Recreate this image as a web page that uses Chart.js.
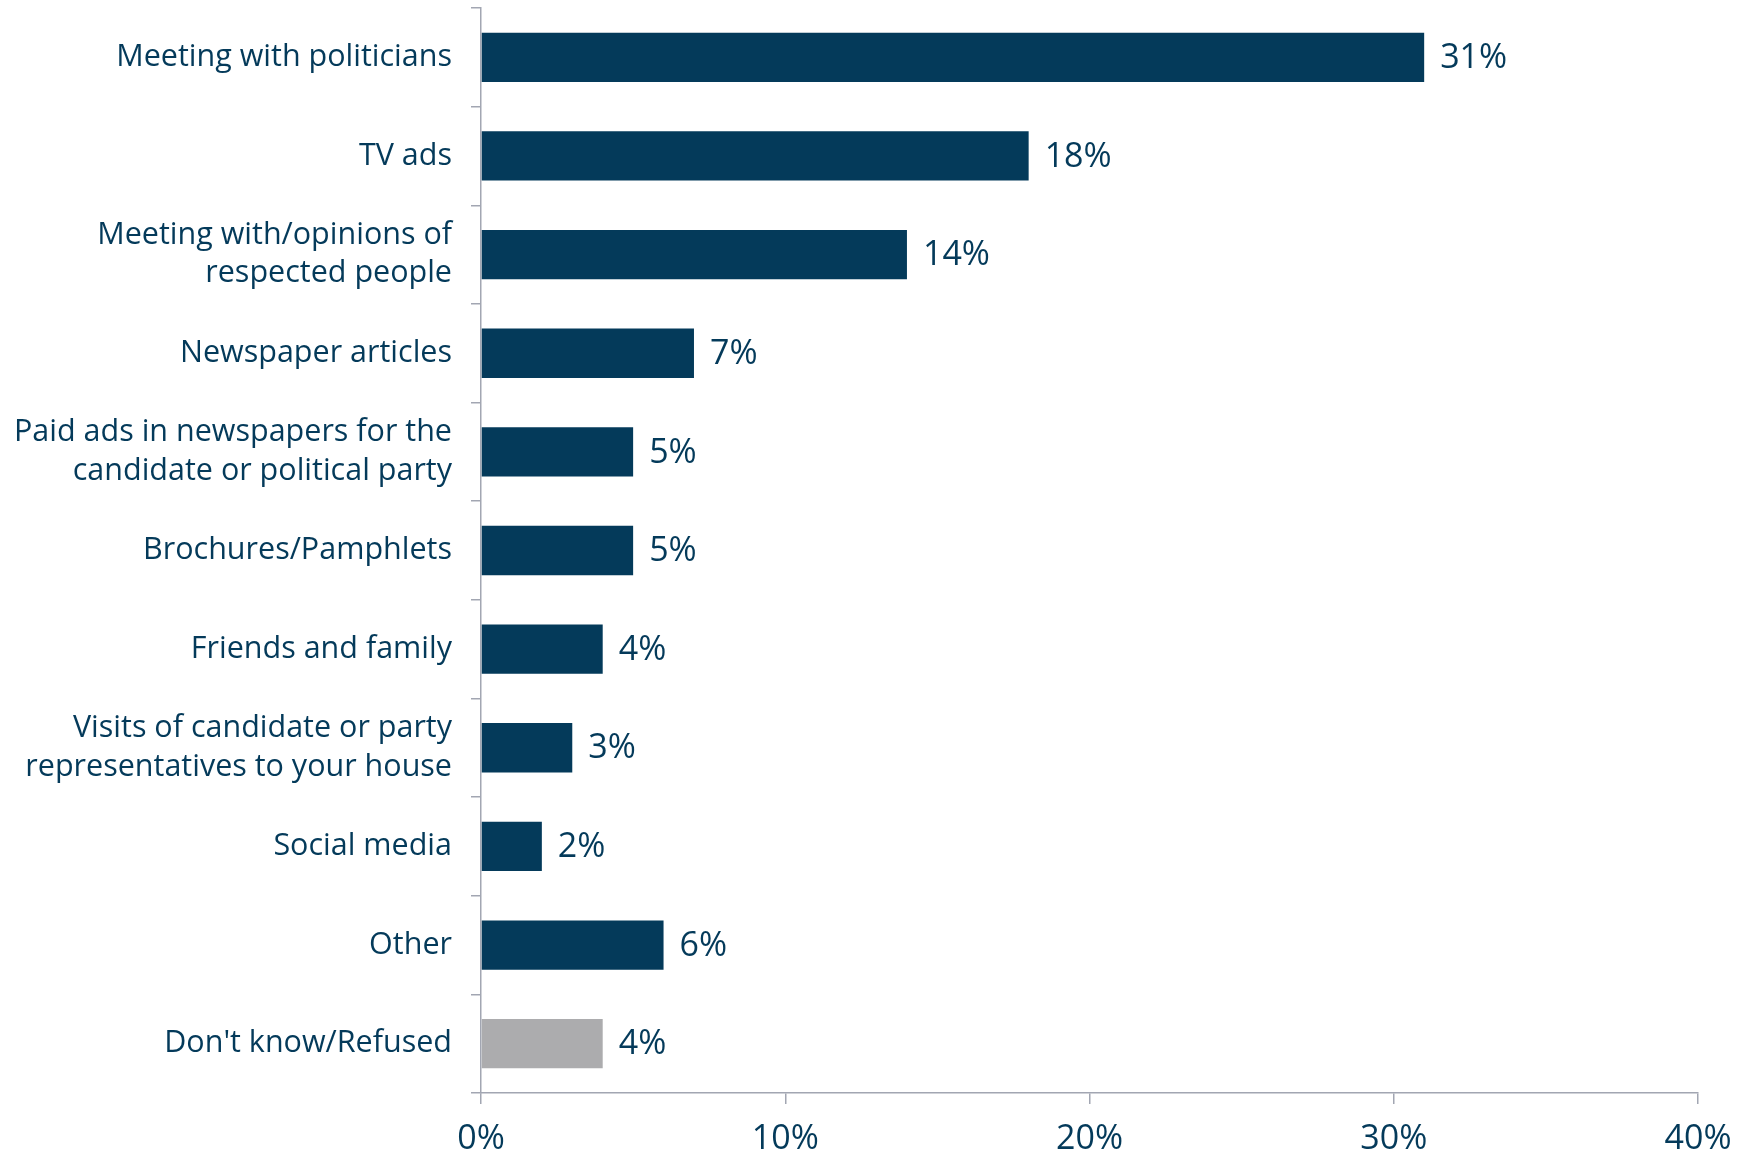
<!DOCTYPE html>
<html>
<head>
<meta charset="utf-8">
<script src="https://cdn.jsdelivr.net/npm/chart.js@4"></script>
<style>
  body { margin: 0; background: #fff; }
  #wrap { width: 1748px; height: 1156px; position: relative; }
</style>
</head>
<body>
<div id="wrap"><canvas id="chart"></canvas></div>
<script>
// chart data
const categories = [
  "Meeting with politicians",
  "TV ads",
  ["Meeting with/opinions of", "respected people"],
  "Newspaper articles",
  ["Paid ads in newspapers for the", "candidate or political party"],
  "Brochures/Pamphlets",
  "Friends and family",
  ["Visits of candidate or party", "representatives to your house"],
  "Social media",
  "Other",
  "Don't know/Refused",
];
const values = [31, 18, 14, 7, 5, 5, 4, 3, 2, 6, 4];
const xTicks = [0, 10, 20, 30, 40];

const navy = "#043a5a";
const grey = "#acacae";
const axisGrey = "#a2a6b2";
const numberFont = "'Open Sans', sans-serif";

// bar value labels to the right of each bar
const valueLabels = {
  id: "valueLabels",
  afterDatasetsDraw(chart) {
    const ctx = chart.ctx;
    const meta = chart.getDatasetMeta(0);
    ctx.save();
    ctx.font = "34px " + numberFont;
    ctx.fillStyle = navy;
    ctx.textAlign = "left";
    ctx.textBaseline = "middle";
    meta.data.forEach((bar, i) => {
      ctx.fillText(values[i] + "%", bar.x + 16, bar.y + 1);
    });
    ctx.restore();
  },
};

const ctx = document.getElementById("chart").getContext("2d");
new Chart(ctx, {
  type: "bar",
  data: {
    labels: categories,
    datasets: [
      {
        data: values,
        backgroundColor: values.map((v, i) => (i === values.length - 1 ? grey : navy)),
        categoryPercentage: 1,
        barPercentage: 0.5,
      },
    ],
  },
  options: {
    indexAxis: "y",
    responsive: true,
    maintainAspectRatio: false,
    animation: false,
    layout: { padding: { top: 8, right: 50, left: 0, bottom: 0 } },
    plugins: {
      legend: { display: false },
      tooltip: { enabled: false },
    },
    scales: {
      y: {
        grid: {
          offset: true,
          drawOnChartArea: false,
          drawTicks: true,
          tickLength: 10,
          color: axisGrey,
          lineWidth: 1.5,
        },
        border: { color: axisGrey, width: 1.5 },
        ticks: {
          color: navy,
          padding: 19,
          font: { family: "'Open Sans', sans-serif", size: 30.5, lineHeight: 1.25 },
        },
        afterFit: (scale) => {
          scale.width = 481;
          // no extra room for half-labels at top/bottom
          scale.paddingTop = 0;
          scale.paddingBottom = 0;
        },
      },
      x: {
        min: 0,
        max: 40,
        afterBuildTicks: (scale) => {
          scale.ticks = xTicks.map((v) => ({ value: v }));
        },
        grid: {
          drawOnChartArea: false,
          drawTicks: true,
          tickLength: 11,
          color: axisGrey,
          lineWidth: 1.5,
        },
        border: { color: axisGrey, width: 1.5 },
        ticks: {
          color: navy,
          padding: 15,
          maxRotation: 0,
          font: { family: numberFont, size: 34 },
          callback: (v) => v + "%",
        },
        afterFit: (scale) => {
          scale.height = 63;
        },
      },
    },
  },
  plugins: [valueLabels],
});
</script>
</body>
</html>
